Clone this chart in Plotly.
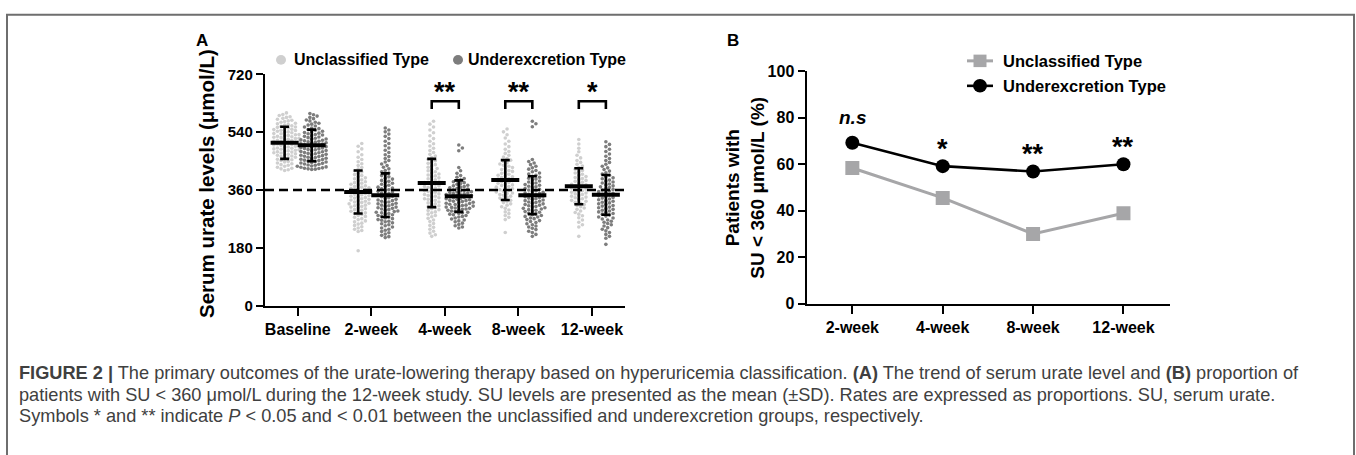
import plotly.graph_objects as go

W, H = 1356, 455

# ---------------- data: panel A ----------------
timepoints_a = ["Baseline", "2-week", "4-week", "8-week", "12-week"]
group_names = ["Unclassified Type", "Underexcretion Type"]

unc_baseline = [600, 595, 592, 588, 586, 583, 580, 577, 575, 573, 571, 568, 566, 564, 562, 560,
                558, 556, 555, 553, 551, 549, 548, 546, 545, 543, 541, 540, 538, 536, 535, 533,
                532, 530, 529, 527, 526, 524, 523, 521, 520, 518, 517, 515, 514, 512, 511, 509,
                508, 506, 505, 503, 502, 500, 499, 497, 496, 494, 493, 491, 490, 488, 487, 485,
                484, 482, 481, 479, 478, 476, 475, 473, 471, 469, 468, 466, 464, 462, 460, 458,
                456, 454, 452, 449, 447, 444, 442, 439, 437, 434, 431, 428, 426, 423, 421]
und_baseline = [598, 594, 590, 586, 582, 578, 575, 571, 568, 565, 562, 559, 556, 553, 551, 548,
                546, 543, 541, 539, 537, 535, 533, 531, 529, 527, 525, 523, 521, 519, 518, 516,
                515, 513, 512, 510, 509, 507, 506, 504, 503, 501, 500, 498, 497, 495, 494, 492,
                491, 489, 488, 486, 485, 483, 482, 480, 479, 477, 476, 474, 473, 471, 470, 468,
                467, 465, 464, 462, 461, 459, 458, 456, 455, 453, 452, 450, 449, 447, 446, 444,
                443, 441, 440, 438, 437, 435, 434, 432, 431, 429, 428, 427, 426, 425, 424]
unc_wk2 = [505, 496, 488, 479, 470, 462, 455, 448, 442, 436, 430, 425, 420, 416, 412, 408, 405,
           401, 398, 395, 392, 389, 386, 383, 381, 378, 376, 373, 371, 369, 367, 365, 363, 361,
           359, 357, 355, 353, 351, 349, 347, 345, 343, 341, 339, 337, 335, 333, 331, 329, 327,
           325, 323, 321, 319, 317, 315, 313, 311, 309, 307, 304, 302, 299, 297, 294, 292, 289,
           287, 284, 281, 278, 275, 271, 268, 264, 261, 257, 254, 250, 246, 242, 238, 234, 231,
           171]
und_wk2 = [553, 547, 541, 534, 527, 520, 512, 505, 498, 491, 484, 477, 470, 464, 458, 452, 447,
           441, 436, 431, 426, 421, 417, 413, 409, 405, 401, 397, 394, 390, 387, 384, 381, 378,
           375, 372, 369, 366, 364, 361, 359, 356, 354, 351, 349, 346, 344, 341, 339, 336, 334,
           331, 329, 327, 325, 323, 321, 319, 317, 315, 313, 311, 309, 307, 305, 303, 301, 299,
           297, 295, 293, 291, 289, 287, 285, 283, 281, 278, 276, 273, 271, 268, 266, 263, 261,
           258, 255, 252, 249, 245, 242, 238, 235, 231, 227, 223, 219, 215, 212]
unc_wk4 = [574, 565, 556, 547, 538, 529, 520, 512, 504, 497, 490, 483, 477, 471, 466, 461, 456,
           451, 447, 443, 439, 435, 431, 427, 424, 420, 417, 413, 410, 407, 404, 401, 398, 395,
           392, 389, 386, 383, 381, 378, 376, 373, 371, 368, 366, 363, 361, 358, 356, 353, 351,
           348, 346, 343, 341, 338, 336, 333, 331, 328, 326, 323, 320, 317, 314, 311, 308, 305,
           302, 299, 296, 292, 289, 285, 281, 277, 272, 267, 262, 256, 250, 244, 238, 232, 226,
           221, 216]
und_wk4 = [500, 491, 482, 430, 420, 412, 405, 400, 396, 392, 389, 386, 383, 380, 378, 375, 373,
           371, 369, 367, 365, 363, 361, 359, 357, 355, 354, 352, 351, 349, 348, 346, 345, 343,
           342, 340, 339, 337, 336, 334, 333, 331, 330, 328, 327, 325, 324, 322, 321, 319, 318,
           316, 315, 313, 312, 310, 309, 307, 306, 304, 303, 301, 300, 298, 297, 295, 293, 291,
           289, 287, 285, 283, 281, 278, 276, 273, 270, 267, 264, 261, 257, 253, 249, 245, 242]
unc_wk8 = [550, 541, 532, 522, 512, 503, 495, 487, 480, 474, 468, 463, 458, 453, 449, 445, 441,
           437, 434, 430, 427, 424, 421, 418, 415, 412, 409, 406, 404, 401, 399, 396, 394, 391,
           389, 386, 384, 381, 379, 376, 374, 371, 369, 366, 364, 361, 359, 356, 354, 351, 349,
           346, 344, 341, 338, 335, 332, 328, 325, 321, 317, 313, 308, 303, 298, 292, 287, 281,
           275, 268, 228]
und_wk8 = [574, 566, 557, 455, 449, 444, 439, 434, 429, 425, 421, 417, 413, 410, 406, 403, 400,
           397, 394, 391, 388, 385, 382, 380, 377, 375, 372, 370, 367, 365, 362, 360, 358, 355,
           353, 351, 349, 347, 345, 343, 341, 339, 337, 335, 333, 331, 329, 327, 325, 323, 321,
           319, 317, 315, 313, 311, 309, 307, 305, 303, 301, 299, 297, 295, 293, 291, 288, 286,
           283, 281, 278, 276, 273, 271, 268, 265, 262, 259, 255, 252, 248, 245, 241, 237, 232,
           228, 222, 216]
unc_wk12 = [517, 503, 490, 479, 468, 460, 452, 446, 440, 435, 430, 425, 421, 417, 413, 409, 406,
            402, 399, 396, 393, 390, 387, 384, 381, 378, 376, 373, 371, 368, 366, 363, 361, 358,
            356, 353, 351, 348, 346, 343, 341, 338, 336, 333, 331, 328, 325, 322, 319, 315, 312,
            308, 304, 300, 295, 290, 285, 280, 274, 267, 260, 252, 245, 216]
und_wk12 = [510, 502, 495, 487, 480, 472, 465, 458, 452, 446, 440, 434, 429, 424, 419, 414, 410,
            406, 402, 398, 395, 391, 388, 385, 382, 379, 376, 373, 370, 368, 365, 362, 360, 357,
            355, 352, 350, 347, 345, 342, 340, 337, 335, 332, 330, 327, 325, 322, 320, 317, 315,
            312, 310, 307, 305, 302, 300, 297, 295, 292, 290, 287, 285, 282, 279, 276, 273, 270,
            267, 263, 260, 256, 252, 248, 243, 238, 233, 228, 222, 216, 210, 191]

unc_mean = [507, 354, 382, 391, 372]
unc_sd = [50, 67, 75, 62, 56]
und_mean = [499, 344, 341, 344, 345]
und_sd = [49, 68, 49, 59, 62]

sig_a = ["", "", "**", "**", "*"]
su_target = 360
ticks_a = [0, 180, 360, 540, 720]

# ---------------- data: panel B ----------------
timepoints_b = ["2-week", "4-week", "8-week", "12-week"]
unc_pct = [58.4, 45.5, 30.0, 38.9]
und_pct = [69.3, 59.2, 56.9, 60.0]
sig_b = ["n.s", "*", "**", "**"]
ticks_b = [0, 20, 40, 60, 80, 100]

# ---------------- styling / geometry ----------------
FONT = "Liberation Sans, Arial, Helvetica, sans-serif"
LIGHT = "#cfcfcf"
DARK = "#7d7d7d"
B_GRAY = "#a6a6a8"

ax_l, ax_r, ax_b, ax_t = 265, 625, 309, 68
xr_a = [-0.445, 4.45]
yr_a = [0, 720]
bx_l, bx_r, bx_b, bx_t = 806.7, 1170, 306.7, 65
xr_b = [-0.505, 3.515]
yr_b = [0, 100]

px_per_unit_a = (ax_r - ax_l) / (xr_a[1] - xr_a[0])
px_per_val_a = (ax_b - ax_t) / (yr_a[1] - yr_a[0])
grp_off = [-0.178, 0.19]


def px(x):
    return x / W


def py(y):
    return 1 - y / H


def swarm(values, d_px):
    """Beeswarm layout: horizontal pixel offsets for each value."""
    order = sorted(range(len(values)), key=lambda k: values[k])
    placed = []
    offs = [0.0] * len(values)
    step = d_px * 0.5
    for k in order:
        yv = values[k] * px_per_val_a
        cands = [0.0]
        for m in range(1, 40):
            cands += [m * step, -m * step]
        for c in cands:
            if all((xo - c) ** 2 + (yo - yv) ** 2 >= d_px * d_px for (xo, yo) in placed):
                offs[k] = c
                placed.append((c, yv))
                break
    return offs


fig = go.Figure()

groups_values = [
    [unc_baseline, unc_wk2, unc_wk4, unc_wk8, unc_wk12],
    [und_baseline, und_wk2, und_wk4, und_wk8, und_wk12],
]
colors = [LIGHT, DARK]
DOT = 3.6
for g in range(2):
    xs, ys = [], []
    for i, vals in enumerate(groups_values[g]):
        offs = swarm(vals, DOT)
        for v, o in zip(vals, offs):
            xs.append(i + grp_off[g] + o / px_per_unit_a)
            ys.append(v)
    fig.add_trace(go.Scatter(
        x=xs, y=ys, mode="markers", xaxis="x", yaxis="y",
        marker=dict(size=DOT, color=colors[g], line=dict(width=0)),
        showlegend=False, hoverinfo="skip"))

for g, (means, sds) in enumerate([(unc_mean, unc_sd), (und_mean, und_sd)]):
    fig.add_trace(go.Scatter(
        x=[i + grp_off[g] for i in range(len(means))], y=means, mode="markers",
        xaxis="x", yaxis="y",
        marker=dict(symbol="line-ew", size=20, color="black",
                    line=dict(width=4, color="black")),
        error_y=dict(type="data", array=sds, visible=True, color="black",
                     thickness=2.6, width=4.5),
        showlegend=False, hoverinfo="skip"))

fig.add_trace(go.Scatter(
    x=list(range(len(timepoints_b))), y=unc_pct, mode="lines+markers",
    xaxis="x2", yaxis="y2", name=group_names[0],
    line=dict(color=B_GRAY, width=3),
    marker=dict(symbol="square", size=14, color=B_GRAY),
    showlegend=False, hoverinfo="skip"))
fig.add_trace(go.Scatter(
    x=list(range(len(timepoints_b))), y=und_pct, mode="lines+markers",
    xaxis="x2", yaxis="y2", name=group_names[1],
    line=dict(color="black", width=2.6),
    marker=dict(symbol="circle", size=14, color="black"),
    showlegend=False, hoverinfo="skip"))

shapes = []
annotations = []

# outer frame of the figure panel
shapes.append(dict(type="rect", xref="paper", yref="paper",
                   x0=px(7), x1=px(1354), y0=-0.2, y1=py(6),
                   line=dict(color="#6e6e6e", width=2), layer="below"))

# dashed target line
shapes.append(dict(type="line", xref="x domain", yref="y", x0=0, x1=1,
                   y0=su_target, y1=su_target,
                   line=dict(color="black", width=2.4, dash="9px,5px")))

# significance brackets (A)
for i, s in enumerate(sig_a):
    if not s:
        continue
    x0, x1 = i + grp_off[0], i + grp_off[1]
    shapes.append(dict(type="path", xref="x", yref="y",
                       path=f"M {x0},612 L {x0},636 L {x1},636 L {x1},612",
                       line=dict(color="black", width=2.6)))
    annotations.append(dict(x=(x0 + x1) / 2, y=636, xref="x", yref="y",
                            text=s, showarrow=False, yanchor="bottom", yshift=-8,
                            font=dict(family=FONT, size=27, color="black", weight="bold")))

# significance labels (B)
for i, s in enumerate(sig_b):
    if s == "n.s":
        annotations.append(dict(x=i, y=und_pct[i], xref="x2", yref="y2",
                                text=f"<i>{s}</i>", showarrow=False, yshift=25,
                                font=dict(family=FONT, size=19, color="black", weight="bold")))
    else:
        annotations.append(dict(x=i, y=und_pct[i], xref="x2", yref="y2",
                                text=s, showarrow=False, yshift=17,
                                font=dict(family=FONT, size=27, color="black", weight="bold")))

# legend A
for cx, col, txt, tx in [(281, LIGHT, group_names[0], 292), (458, DARK, group_names[1], 466)]:
    shapes.append(dict(type="circle", xref="paper", yref="paper",
                       x0=px(cx - 5), x1=px(cx + 5), y0=py(58), y1=py(48),
                       fillcolor=col, line=dict(width=0)))
    annotations.append(dict(x=px(tx), y=py(53), xref="paper", yref="paper",
                            text=txt, showarrow=False, xanchor="left", yanchor="middle",
                            font=dict(family=FONT, size=16, color="black", weight="bold")))

# legend B
shapes.append(dict(type="line", xref="paper", yref="paper", x0=px(967), x1=px(993),
                   y0=py(54), y1=py(54), line=dict(color=B_GRAY, width=3)))
shapes.append(dict(type="rect", xref="paper", yref="paper", x0=px(973.5), x1=px(986.5),
                   y0=py(60.5), y1=py(47.5), fillcolor=B_GRAY, line=dict(width=0)))
shapes.append(dict(type="line", xref="paper", yref="paper", x0=px(967), x1=px(993),
                   y0=py(80), y1=py(80), line=dict(color="black", width=2.6)))
shapes.append(dict(type="circle", xref="paper", yref="paper", x0=px(973), x1=px(987),
                   y0=py(87), y1=py(73), fillcolor="black", line=dict(width=0)))
for txt, yy in [(group_names[0], 54), (group_names[1], 80)]:
    annotations.append(dict(x=px(1001), y=py(yy), xref="paper", yref="paper",
                            text=txt, showarrow=False, xanchor="left", yanchor="middle",
                            font=dict(family=FONT, size=16.5, color="black", weight="bold")))

# panel letters
for txt, xx in [("A", 201.7), ("B", 732.5)]:
    annotations.append(dict(x=px(xx), y=py(32.5), xref="paper", yref="paper", text=txt,
                            showarrow=False, xanchor="center", yanchor="middle",
                            font=dict(family=FONT, size=17, color="black", weight="bold")))

# axis titles
annotations.append(dict(x=px(206.7), y=py(181.5), xref="paper", yref="paper",
                        text="Serum urate levels (μmol/L)", textangle=-90, showarrow=False,
                        xanchor="center", yanchor="middle",
                        font=dict(family=FONT, size=20.5, color="black", weight="bold")))
annotations.append(dict(x=px(745), y=py(186), xref="paper", yref="paper",
                        text="Patients with<br>SU &lt; 360 μmol/L (%)", textangle=-90,
                        showarrow=False, xanchor="center", yanchor="middle",
                        font=dict(family=FONT, size=19, color="black", weight="bold")))

# caption
cap_font = dict(family=FONT, size=18.2, color="#404040")
caption_lines = [
    "<b>FIGURE 2 |</b> The primary outcomes of the urate-lowering therapy based on hyperuricemia "
    "classification. <b>(A)</b> The trend of serum urate level and <b>(B)</b> proportion of",
    "patients with SU &lt; 360 μmol/L during the 12-week study. SU levels are presented as the "
    "mean (±SD). Rates are expressed as proportions. SU, serum urate.",
    "Symbols * and ** indicate <i>P</i> &lt; 0.05 and &lt; 0.01 between the unclassified and "
    "underexcretion groups, respectively.",
]
for line, yy in zip(caption_lines, [379, 402, 424]):
    annotations.append(dict(x=px(17), y=py(yy), xref="paper", yref="paper", text=line,
                            showarrow=False, xanchor="left", yanchor="middle", font=cap_font))

axis_common = dict(showline=True, linecolor="black", linewidth=2.4, ticks="outside",
                   tickcolor="black", tickwidth=2.4, showgrid=False, zeroline=False,
                   mirror=False)

fig.update_layout(
    width=W, height=H, margin=dict(l=0, r=0, t=0, b=0),
    paper_bgcolor="white", plot_bgcolor="rgba(0,0,0,0)",
    showlegend=False,
    xaxis=dict(domain=[px(ax_l), px(ax_r)], range=xr_a, anchor="y",
               tickvals=list(range(len(timepoints_a))), ticktext=timepoints_a,
               ticklen=8, tickfont=dict(family=FONT, size=16, color="black", weight="bold"),
               **axis_common),
    yaxis=dict(domain=[py(ax_b), py(ax_t)], range=yr_a, anchor="x",
               tickvals=ticks_a, ticklen=7,
               tickfont=dict(family=FONT, size=15, color="black", weight="bold"),
               **axis_common),
    xaxis2=dict(domain=[px(bx_l), px(bx_r)], range=xr_b, anchor="y2",
                tickvals=list(range(len(timepoints_b))), ticktext=timepoints_b,
                ticklen=8, tickfont=dict(family=FONT, size=16, color="black", weight="bold"),
                **axis_common),
    yaxis2=dict(domain=[py(bx_b), py(bx_t)], range=yr_b, anchor="x2",
                tickvals=ticks_b, ticklen=7,
                tickfont=dict(family=FONT, size=16, color="black", weight="bold"),
                **axis_common),
    shapes=shapes,
    annotations=annotations,
)

fig.write_html(
    "out.html",
    config={"displayModeBar": False},
    post_script="document.documentElement.style.margin='0';document.body.style.margin='0';"
                "document.body.style.padding='0';document.body.style.overflow='hidden';"
                "document.documentElement.style.overflow='hidden';",
)
